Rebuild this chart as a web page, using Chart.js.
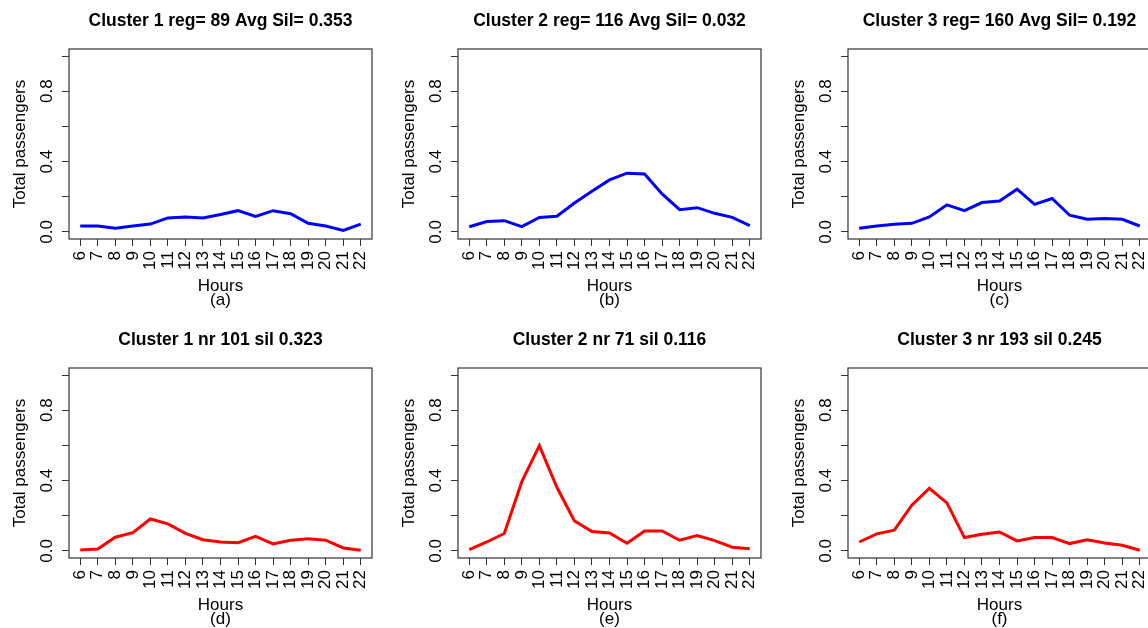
<!DOCTYPE html>
<html>
<head>
<meta charset="utf-8">
<script src="https://cdn.jsdelivr.net/npm/chart.js@4.4.1/dist/chart.umd.min.js"></script>
<style>
  html, body { margin: 0; padding: 0; background: #fff; overflow: hidden; width: 1148px; height: 628px; position: relative; }
  canvas { position: absolute; }
</style>
</head>
<body>
<canvas id="g0" width="441" height="314" style="left:0px;top:0px"></canvas>
<canvas id="g1" width="441" height="314" style="left:389px;top:0px"></canvas>
<canvas id="g2" width="441" height="314" style="left:779px;top:0px"></canvas>
<canvas id="g3" width="441" height="314" style="left:0px;top:319px"></canvas>
<canvas id="g4" width="441" height="314" style="left:389px;top:319px"></canvas>
<canvas id="g5" width="441" height="314" style="left:779px;top:319px"></canvas>
<script>
// horas del eje x
const horas = [6, 7, 8, 9, 10, 11, 12, 13, 14, 15, 16, 17, 18, 19, 20, 21, 22];
const ticksY = [0, 0.2, 0.4, 0.6, 0.8, 1.0];
const etiquetasY = [0, 0.4, 0.8];

// fila de arriba (azul)
const regCluster1 = [0.034, 0.034, 0.021, 0.034, 0.045, 0.080, 0.085, 0.080, 0.099, 0.121, 0.089, 0.121, 0.104, 0.049, 0.034, 0.009, 0.045];
const regCluster2 = [0.030, 0.059, 0.064, 0.030, 0.082, 0.089, 0.165, 0.231, 0.296, 0.334, 0.330, 0.216, 0.127, 0.138, 0.106, 0.083, 0.036];
const regCluster3 = [0.021, 0.034, 0.044, 0.049, 0.085, 0.154, 0.121, 0.167, 0.176, 0.243, 0.157, 0.190, 0.095, 0.072, 0.076, 0.072, 0.034];
// fila de abajo (rojo)
const nrCluster1 = [0.006, 0.011, 0.078, 0.104, 0.182, 0.154, 0.100, 0.064, 0.051, 0.047, 0.083, 0.040, 0.061, 0.070, 0.061, 0.017, 0.004];
const nrCluster2 = [0.008, 0.051, 0.099, 0.394, 0.599, 0.362, 0.171, 0.110, 0.102, 0.044, 0.114, 0.114, 0.061, 0.087, 0.059, 0.021, 0.013];
const nrCluster3 = [0.051, 0.097, 0.118, 0.260, 0.356, 0.273, 0.076, 0.095, 0.108, 0.057, 0.076, 0.076, 0.042, 0.063, 0.045, 0.032, 0.004];

const titulos = [
  'Cluster 1 reg= 89 Avg Sil= 0.353',
  'Cluster 2 reg= 116 Avg Sil= 0.032',
  'Cluster 3 reg= 160 Avg Sil= 0.192',
  'Cluster 1 nr 101 sil 0.323',
  'Cluster 2 nr 71 sil 0.116',
  'Cluster 3 nr 193 sil 0.245'
];
const letras = ['(a)', '(b)', '(c)', '(d)', '(e)', '(f)'];
const series = [regCluster1, regCluster2, regCluster3, nrCluster1, nrCluster2, nrCluster3];
const colores = ['#0000ff', '#0000ff', '#0000ff', '#ff0000', '#ff0000', '#ff0000'];

Chart.defaults.font.family = '"Liberation Sans", Arial, Helvetica, sans-serif';
Chart.defaults.color = '#000';

// recuadro del area de la grafica (como box() de R)
const marco = {
  id: 'marco',
  afterDatasetsDraw(chart) {
    const a = chart.chartArea;
    const ctx = chart.ctx;
    ctx.save();
    ctx.strokeStyle = '#333';
    ctx.lineWidth = 1.2;
    ctx.strokeRect(a.left, a.top, a.right - a.left, a.bottom - a.top);
    ctx.restore();
  }
};

function crearGrafica(i) {
  const $lienzo = document.getElementById('g' + i);
  const puntos = horas.map((h, k) => ({ x: h, y: series[i][k] }));

  new Chart($lienzo, {
    type: 'line',
    data: {
      datasets: [{
        data: puntos,
        borderColor: colores[i],
        borderWidth: 3,
        pointRadius: 0,
        fill: false,
        tension: 0
      }]
    },
    options: {
      responsive: false,
      animation: false,
      events: [],
      layout: { padding: 0 },
      plugins: {
        legend: { display: false },
        tooltip: { enabled: false },
        title: {
          display: true,
          text: titulos[i],
          color: '#000',
          font: { size: 17.5, weight: 'bold', lineHeight: 1.2 },
          padding: { top: 10.5, bottom: 17.5 }
        }
      },
      scales: {
        x: {
          type: 'linear',
          min: 5.36,
          max: 22.64,
          afterBuildTicks: s => { s.ticks = horas.map(h => ({ value: h })); },
          afterFit: s => { s.height = 75; },
          border: { display: false },
          grid: { drawOnChartArea: false, tickLength: 7, color: '#333', tickColor: '#333' },
          ticks: {
            autoSkip: false, minRotation: 90, maxRotation: 90, padding: 5,
            font: { size: 17 },
            callback: v => String(v)
          },
          title: {
            display: true,
            text: ['Hours', letras[i]],
            font: { size: 17, lineHeight: 0.82 },
            padding: { top: 0, bottom: 7 }
          }
        },
        y: {
          min: -0.04,
          max: 1.04,
          afterBuildTicks: s => { s.ticks = ticksY.map(v => ({ value: v })); },
          afterFit: s => { s.width = 69; },
          border: { display: false },
          grid: { drawOnChartArea: false, tickLength: 7, color: '#333', tickColor: '#333' },
          ticks: {
            minRotation: 90, maxRotation: 90, crossAlign: 'center', padding: 3,
            font: { size: 17 },
            callback: v => etiquetasY.includes(v) ? v.toFixed(1) : ''
          },
          title: {
            display: true,
            text: 'Total passengers',
            font: { size: 17 },
            padding: { top: 9.8, bottom: 0 }
          }
        },
        // eje vacio a la derecha, solo para dejar el margen y centrar el titulo
        margen: {
          position: 'right',
          afterFit: s => { s.width = 69; },
          border: { display: false },
          grid: { display: false },
          ticks: { display: false }
        }
      }
    },
    plugins: [marco]
  });
}

for (let i = 0; i < 6; i++) {
  crearGrafica(i);
}
</script>
</body>
</html>
